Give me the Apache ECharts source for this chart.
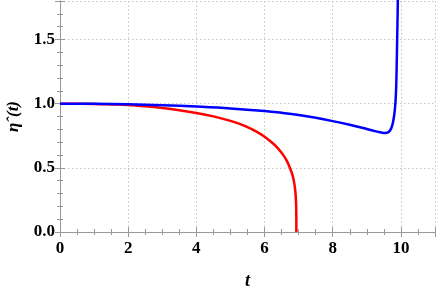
<!DOCTYPE html>
<html>
<head>
<meta charset="utf-8">
<script src="https://cdn.jsdelivr.net/npm/echarts@6/dist/echarts.min.js"></script>
<style>html,body{margin:0;padding:0;background:#fff}#c{width:436px;height:291px}</style>
</head>
<body>
<div id="c"></div>
<script>
// Data
const redT   = [0, 0.5, 1, 1.5, 2, 2.5, 3, 3.5, 4, 4.5, 5, 5.25, 5.5, 5.75, 6, 6.25, 6.4, 6.55, 6.65, 6.74, 6.8, 6.84, 6.87, 6.89, 6.905, 6.915, 6.922, 6.927, 6.93, 6.932, 6.933];
const redEta = [1.0, 0.9995, 0.998, 0.994, 0.989, 0.979, 0.966, 0.949, 0.928, 0.901, 0.866, 0.844, 0.817, 0.784, 0.743, 0.69, 0.65, 0.599, 0.556, 0.503, 0.46, 0.422, 0.383, 0.347, 0.31, 0.276, 0.243, 0.208, 0.16, 0.1, 0.0];
const blueT   = [0, 1, 2, 3, 4, 5, 6, 6.5, 7, 7.5, 8, 8.5, 9, 9.2, 9.35, 9.45, 9.52, 9.58, 9.64, 9.69, 9.72, 9.76, 9.8, 9.82, 9.84, 9.86, 9.875, 9.89, 9.905, 9.915];
const blueEta = [1.0, 0.999, 0.995, 0.988, 0.977, 0.963, 0.943, 0.929, 0.912, 0.89, 0.864, 0.835, 0.803, 0.789, 0.779, 0.774, 0.772, 0.773, 0.78, 0.795, 0.81, 0.845, 0.905, 0.95, 1.01, 1.12, 1.28, 1.5, 1.72, 1.9];
const xTicks = [0, 2, 4, 6, 8, 10];
const yTicks = [0.0, 0.5, 1.0, 1.5];

const pairs = (a, b) => a.map((v, i) => [v, b[i]]);
const font = {fontFamily: 'Liberation Serif', fontWeight: 'bold', fontSize: 17, color: '#000'};
const axisColor = '#999';

function xAxis(pos, major) {
  return {
    type: 'value', min: 0, max: 11, interval: major ? 2 : 0.5, position: pos,
    axisLine: {show: major, lineStyle: {color: axisColor, width: 1}},
    axisTick: {show: true, inside: true, length: major ? 5 : 3, lineStyle: {color: axisColor}},
    axisLabel: (major && pos === 'bottom') ? Object.assign({margin: 8, formatter: v => xTicks.includes(v) ? String(v) : ''}, font) : {show: false},
    splitLine: {show: major && pos === 'bottom', lineStyle: {color: '#c4c4c4', type: [1.5, 2.5], width: 1}}
  };
}
function yAxis(pos, major) {
  return {
    type: 'value', min: 0, max: 1.8, interval: major ? 0.5 : 0.1, position: pos,
    axisLine: {show: major, lineStyle: {color: axisColor, width: 1}},
    axisTick: {show: true, inside: true, length: major ? 5 : 3, lineStyle: {color: axisColor}},
    axisLabel: (major && pos === 'left') ? Object.assign({margin: 5, formatter: v => yTicks.some(t => Math.abs(t - v) < 1e-9) ? v.toFixed(1) : ''}, font) : {show: false},
    splitLine: {show: major && pos === 'left', lineStyle: {color: '#c4c4c4', type: [1.5, 2.5], width: 1}}
  };
}

const xs = [xAxis('bottom', true), xAxis('bottom', false), xAxis('top', true), xAxis('top', false)];
xs[0].name = 't';
xs[0].nameLocation = 'middle';
xs[0].nameGap = 40;
xs[0].nameTextStyle = {fontFamily: 'Liberation Serif', fontWeight: 'bold', fontStyle: 'italic', fontSize: 18, color: '#000'};
const ys = [yAxis('left', true), yAxis('left', false), yAxis('right', true), yAxis('right', false)];
ys[0].name = 'ηˆ(t)';
ys[0].nameLocation = 'middle';
ys[0].nameGap = 38;
ys[0].nameTextStyle = {fontFamily: 'Liberation Serif', fontWeight: 'bold', fontStyle: 'italic', fontSize: 17, color: '#000'};

const chart = echarts.init(document.getElementById('c'), null, {renderer: 'canvas'});
chart.setOption({
  animation: false,
  grid: {left: 60, right: 1, top: 1, bottom: 59, containLabel: false, outerBoundsMode: 'none'},
  xAxis: xs,
  yAxis: ys,
  series: [
    {type: 'line', data: pairs(redT, redEta), xAxisIndex: 0, yAxisIndex: 0, showSymbol: false, smooth: 0.4,
     lineStyle: {color: '#ff0000', width: 2.5}, clip: true},
    {type: 'line', data: pairs(blueT, blueEta), xAxisIndex: 0, yAxisIndex: 0, showSymbol: false, smooth: 0.4,
     lineStyle: {color: '#0000ff', width: 2.5}, clip: true}
  ]
});
</script>
</body>
</html>
